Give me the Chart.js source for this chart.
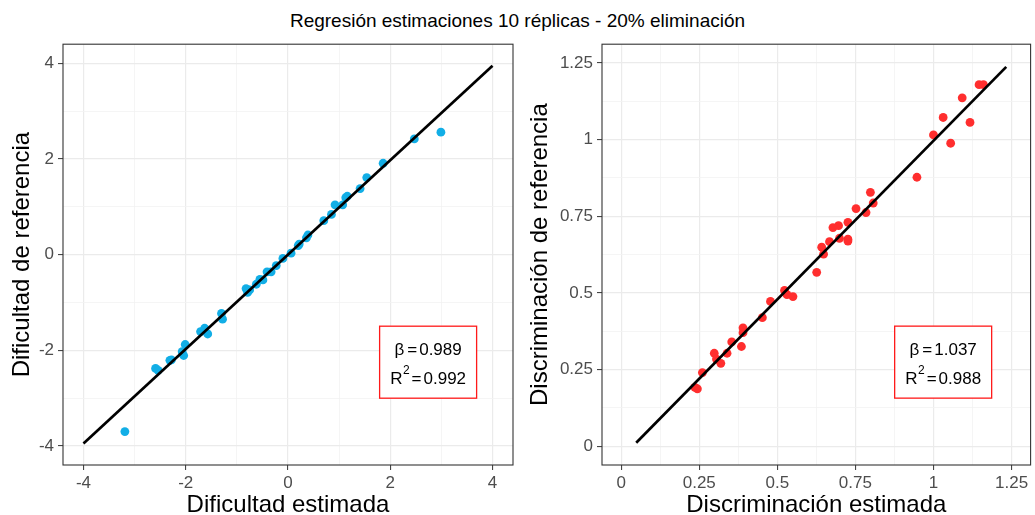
<!DOCTYPE html>
<html><head><meta charset="utf-8">
<script src="https://cdn.jsdelivr.net/npm/chart.js@4/dist/chart.umd.min.js"></script>
<style>
html,body{margin:0;padding:0;background:#fff;width:1035px;height:515px;overflow:hidden;}
#title{position:absolute;left:0;top:11px;width:1035px;text-align:center;font-size:19px;line-height:20px;font-family:"Liberation Sans",Arial,sans-serif;color:#000;}
#c1{position:absolute;left:0;top:30px;}
#c2{position:absolute;left:518px;top:30px;}
</style></head><body>
<div id="title">Regresión estimaciones 10 réplicas - 20% eliminación</div>
<canvas id="c1" width="518" height="485"></canvas>
<canvas id="c2" width="517" height="485"></canvas>
<script>
// ---- Data: left panel (Dificultad) ----
const difEstimada = [-3.19,-2.59,-2.54,-2.31,-2.28,-2.07,-2.04,-2.01,-1.71,-1.63,-1.57,-1.30,-1.28,-0.82,-0.79,-0.75,-0.62,-0.55,-0.49,-0.41,-0.33,-0.23,-0.10,0.06,0.20,0.22,0.36,0.39,0.70,0.85,0.92,1.07,1.13,1.16,1.41,1.54,1.86,2.47,2.99];
const difReferencia = [-3.70,-2.38,-2.42,-2.21,-2.20,-2.03,-2.11,-1.88,-1.61,-1.54,-1.66,-1.23,-1.35,-0.71,-0.79,-0.74,-0.62,-0.52,-0.53,-0.36,-0.36,-0.23,-0.08,0.03,0.19,0.22,0.35,0.41,0.71,0.84,1.04,1.04,1.19,1.22,1.38,1.61,1.91,2.42,2.56];
const difLineX = [-4, 4];
const difLineY = [-3.95, 3.95];
const difStats = ['0.989', '0.992'];      // beta, R^2
const difBoxAt = [2.74, -2.25];           // box centre (data units)
const difTicks = [-4,-3,-2,-1,0,1,2,3,4];
const difTickLabels = {'-4':'-4','-2':'-2','0':'0','2':'2','4':'4'};
const difRange = [-4.4, 4.4];

// ---- Data: right panel (Discriminación) ----
const disEstimada = [0.236,0.244,0.26,0.298,0.305,0.319,0.339,0.354,0.385,0.39,0.39,0.452,0.478,0.523,0.531,0.55,0.626,0.642,0.648,0.667,0.678,0.696,0.699,0.726,0.726,0.726,0.752,0.784,0.798,0.807,0.947,1.0,1.031,1.055,1.092,1.117,1.146,1.16];
const disReferencia = [0.192,0.187,0.24,0.303,0.284,0.27,0.303,0.34,0.325,0.386,0.37,0.419,0.472,0.508,0.494,0.488,0.567,0.649,0.626,0.667,0.713,0.719,0.678,0.73,0.675,0.669,0.775,0.762,0.828,0.793,0.877,1.015,1.072,0.988,1.136,1.056,1.179,1.179];
const disLineX = [0.048, 1.233];
const disLineY = [0.011, 1.237];
const disStats = ['1.037', '0.988'];
const disBoxAt = [1.031, 0.274];
const disTicks = [0,0.125,0.25,0.375,0.5,0.625,0.75,0.875,1,1.125,1.25];
const disTickLabels = {'0':'0','0.25':'0.25','0.5':'0.5','0.75':'0.75','1':'1','1.25':'1.25'};
const disRange = [-0.0615, 1.311];

const FONT = '"Liberation Sans", Arial, sans-serif';

// draw a row of [text, font, dy, gapAfter] pieces centred at cx
function drawPieces(ctx, pieces, cx, by) {
  let total = 0;
  const ws = pieces.map(p => { ctx.font = p[1]; const w = ctx.measureText(p[0]).width; total += w + p[3]; return w; });
  let x = cx - total / 2;
  ctx.textAlign = 'left';
  pieces.forEach((p, i) => { ctx.font = p[1]; ctx.fillText(p[0], x, by + p[2]); x += ws[i] + p[3]; });
}

const panelPlugin = {
  id: 'panel',
  afterDatasetsDraw(chart, args, o) {
    const {ctx, scales} = chart;
    const cx = scales.x.getPixelForValue(o.box[0]);
    const cy = scales.y.getPixelForValue(o.box[1]);
    const w = 97, h = 72;
    ctx.save();
    ctx.fillStyle = '#ffffff';
    ctx.fillRect(cx - w/2, cy - h/2, w, h);
    ctx.strokeStyle = '#FF1A1A';
    ctx.lineWidth = 1.3;
    ctx.strokeRect(cx - w/2, cy - h/2, w, h);
    ctx.fillStyle = '#000';
    ctx.textBaseline = 'alphabetic';
    const main = '17px ' + FONT, sup = '12px ' + FONT;
    drawPieces(ctx, [['\u03B2', main, 0, 3], ['=', main, 0, 2], [o.stats[0], main, 0, 0]], cx, cy - 7);
    drawPieces(ctx, [['R', main, 0, 0.5], ['2', sup, -10, 2], ['=', main, 0, 2], [o.stats[1], main, 0, 0]], cx, cy + 22);
    ctx.restore();
  },
  afterDraw(chart) {
    const {ctx, chartArea: a} = chart;
    ctx.save();
    ctx.strokeStyle = '#333333';
    ctx.lineWidth = 1.1;
    ctx.strokeRect(a.left, a.top, a.right - a.left, a.bottom - a.top);
    ctx.restore();
  }
};

function axis(ticks, labels, range, title, isX, yWidth) {
  const isMajor = v => labels[String(v)] !== undefined;
  return {
    type: 'linear',
    position: isX ? 'bottom' : 'left',
    min: range[0], max: range[1],
    afterBuildTicks: s => { s.ticks = ticks.map(v => ({value: v})); },
    afterFit: s => { if (isX) s.height = 50; else s.width = yWidth; },
    border: {display: false},
    grid: {
      color: c => (c.tick && isMajor(c.tick.value)) ? '#EBEBEB' : '#F3F3F3',
      lineWidth: c => (c.tick && isMajor(c.tick.value)) ? 1.2 : 0.8,
      tickColor: c => (c.tick && isMajor(c.tick.value)) ? '#333333' : 'rgba(0,0,0,0)',
      tickLength: 5,
      tickWidth: 1
    },
    ticks: {
      autoSkip: false, maxRotation: 0, minRotation: 0,
      padding: isX ? 3 : 4,
      color: '#4D4D4D',
      font: {family: FONT, size: 17},
      callback: v => { const l = labels[String(v)]; return l === undefined ? '' : l; }
    },
    title: {
      display: true, text: title, color: '#000',
      font: {family: FONT, size: 24, lineHeight: isX ? 0.78 : 1.2},
      padding: isX ? {top: 0, bottom: 0} : {top: 8, bottom: 0}
    }
  };
}

function build(id, xs, ys, lx, ly, color, ticks, labels, range, xTitle, yTitle, stats, box, yWidth, padRight) {
  new Chart(document.getElementById(id), {
    type: 'scatter',
    data: {
      datasets: [
        {
          type: 'line',
          data: lx.map((x, i) => ({x: x, y: ly[i]})),
          borderColor: '#000', borderWidth: 2.7, pointRadius: 0, fill: false, order: 0
        },
        {
          data: xs.map((x, i) => ({x: x, y: ys[i]})),
          backgroundColor: color, borderWidth: 0, pointRadius: 4.4, order: 1
        }
      ]
    },
    options: {
      responsive: false, animation: false, devicePixelRatio: 1,
      layout: {padding: {top: 11, right: padRight, left: 0, bottom: 0}},
      plugins: {legend: {display: false}, tooltip: {enabled: false}, panel: {stats: stats, box: box}},
      scales: {
        x: axis(ticks, labels, range, xTitle, true, 0),
        y: axis(ticks, labels, range, yTitle, false, yWidth)
      }
    },
    plugins: [panelPlugin]
  });
}

build('c1', difEstimada, difReferencia, difLineX, difLineY, '#12AEE6', difTicks, difTickLabels, difRange,
      'Dificultad estimada', 'Dificultad de referencia', difStats, difBoxAt, 63, 5);
build('c2', disEstimada, disReferencia, disLineX, disLineY, '#FF2E2E', disTicks, disTickLabels, disRange,
      'Discriminación estimada', 'Discriminación de referencia', disStats, disBoxAt, 84, 3);
</script>
</body></html>
